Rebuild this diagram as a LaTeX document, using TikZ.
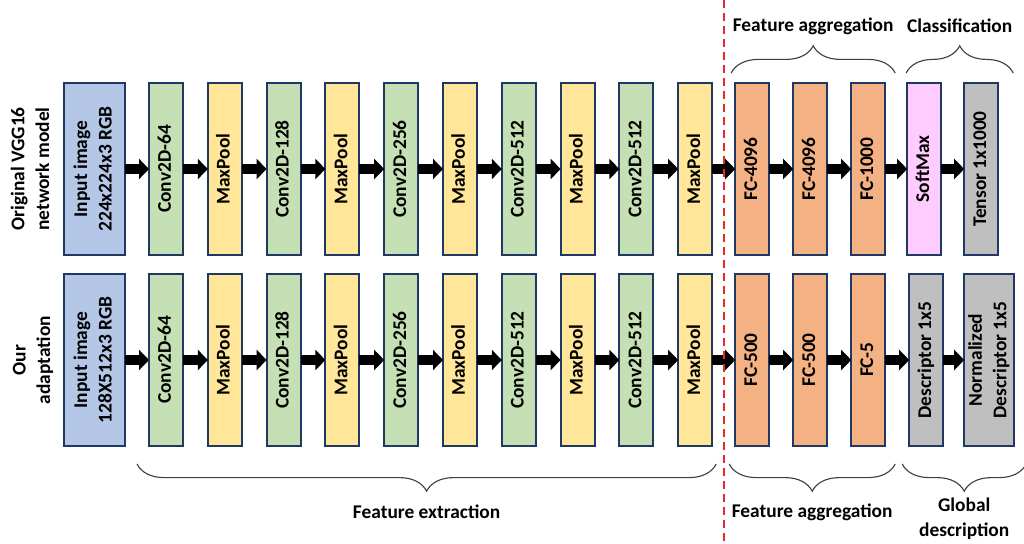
\documentclass[tikz,border=0pt]{standalone}
\usepackage{fontspec}
\setmainfont{Carlito}
\usepackage{tikz}
\usetikzlibrary{arrows.meta,positioning,calc,decorations.pathreplacing}
\usepackage{xcolor}

\definecolor{boxline}{HTML}{1F3864}
\definecolor{inblue}{HTML}{B4C7E7}
\definecolor{convgreen}{HTML}{C5E0B4}
\definecolor{poolyellow}{HTML}{FFE699}
\definecolor{fcorange}{HTML}{F4B183}
\definecolor{softpink}{HTML}{FFCCFF}
\definecolor{descgray}{HTML}{BFBFBF}
\definecolor{bracegray}{HTML}{404040}
\definecolor{cutred}{HTML}{E8262B}

\newcommand{\vtext}[1]{\rotatebox{90}{\begin{tabular}{@{}c@{}}#1\end{tabular}}}

\begin{document}
\begin{tikzpicture}[node distance=0.62cm, >=Latex, every node/.style={align=center,font=\fontsize{13.8}{17.5}\selectfont\bfseries}]
  \tikzset{
    blk/.style={draw=boxline,line width=1.3pt,minimum width=0.85cm,minimum height=4.3cm,inner sep=0pt,outer sep=0pt},
    inbox/.style={blk,fill=inblue,minimum width=1.525cm},
    convbox/.style={blk,fill=convgreen},
    poolbox/.style={blk,fill=poolyellow},
    fcbox/.style={blk,fill=fcorange},
    smbox/.style={blk,fill=softpink},
    outbox/.style={blk,fill=descgray},
    blockarrow/.style={line width=0.25cm,-{Triangle[length=0.25cm,width=0.5cm]}},
    brc/.style={decorate,decoration={brace,amplitude=0.68cm},draw=bracegray,line width=0.8pt},
  }
  \useasboundingbox (0,0) rectangle (25.6,-13.6);

  % row labels
  \node[rotate=90] (lbl1) at (0.75,-4.225) {Original VGG16\\network model};
  \node[rotate=90] (lbl2) at (0.825,-9.0) {Our\\adaptation};

  % original VGG16
  \node[inbox] (in1) at (2.3625,-4.225) {\vtext{Input image\\224x224x3 RGB}};
  \node[convbox,right=0.6cm of in1] (c11) {\vtext{Conv2D-64}};
  \node[poolbox,right=of c11] (p11) {\vtext{MaxPool}};
  \node[convbox,right=of p11] (c12) {\vtext{Conv2D-128}};
  \node[poolbox,right=of c12] (p12) {\vtext{MaxPool}};
  \node[convbox,right=of p12] (c13) {\vtext{Conv2D-256}};
  \node[poolbox,right=of c13] (p13) {\vtext{MaxPool}};
  \node[convbox,right=of p13] (c14) {\vtext{Conv2D-512}};
  \node[poolbox,right=of c14] (p14) {\vtext{MaxPool}};
  \node[convbox,right=of p14] (c15) {\vtext{Conv2D-512}};
  \node[poolbox,right=of c15] (p15) {\vtext{MaxPool}};
  \node[fcbox,right=0.575cm of p15] (fc11) {\vtext{FC-4096}};
  \node[fcbox,right=0.6cm of fc11] (fc12) {\vtext{FC-4096}};
  \node[fcbox,right=0.6cm of fc12] (fc13) {\vtext{FC-1000}};
  \node[smbox,right=0.55cm of fc13] (sm1) {\vtext{SoftMax}};
  \node[outbox,right=0.575cm of sm1] (out1) {\vtext{Tensor 1x1000}};

  % our adaptation
  \node[inbox,below=0.475cm of in1] (in2) {\vtext{Input image\\128X512x3 RGB}};
  \node[convbox,right=0.6cm of in2] (c21) {\vtext{Conv2D-64}};
  \node[poolbox,right=of c21] (p21) {\vtext{MaxPool}};
  \node[convbox,right=of p21] (c22) {\vtext{Conv2D-128}};
  \node[poolbox,right=of c22] (p22) {\vtext{MaxPool}};
  \node[convbox,right=of p22] (c23) {\vtext{Conv2D-256}};
  \node[poolbox,right=of c23] (p23) {\vtext{MaxPool}};
  \node[convbox,right=of p23] (c24) {\vtext{Conv2D-512}};
  \node[poolbox,right=of c24] (p24) {\vtext{MaxPool}};
  \node[convbox,right=of p24] (c25) {\vtext{Conv2D-512}};
  \node[poolbox,right=of c25] (p25) {\vtext{MaxPool}};
  \node[fcbox,right=0.575cm of p25] (fc21) {\vtext{FC-500}};
  \node[fcbox,right=0.6cm of fc21] (fc22) {\vtext{FC-500}};
  \node[fcbox,right=0.6cm of fc22] (fc23) {\vtext{FC-5}};
  \node[outbox,right=0.6cm of fc23] (desc) {\vtext{Descriptor 1x5}};
  \node[outbox,right=0.525cm of desc,minimum width=1.25cm] (ndesc) {\vtext{Normalized\\Descriptor 1x5}};

  \foreach \r in {1,2} {
    \foreach \a/\b in {in\r/c\r1,c\r1/p\r1,p\r1/c\r2,c\r2/p\r2,p\r2/c\r3,c\r3/p\r3,p\r3/c\r4,c\r4/p\r4,p\r4/c\r5,c\r5/p\r5,p\r5/fc\r1,fc\r1/fc\r2,fc\r2/fc\r3}
      \draw[blockarrow] (\a) -- (\b);
  }
  \draw[blockarrow] (fc13) -- (sm1); \draw[blockarrow] (sm1) -- (out1);
  \draw[blockarrow] (fc23) -- (desc); \draw[blockarrow] (desc) -- (ndesc);

  % divider
  \coordinate (cuttop) at (18.1,0);
  \coordinate (cutbot) at (18.1,-13.6);
  \draw[cutred,line width=0.05cm,dash pattern=on 0.2cm off 0.125cm] (cuttop) -- (cutbot);

  % braces
  \draw[brc] ($(fc11.north west)+(-0.1,0.25)$) -- node[midway,yshift=1.175cm] (agg1) {Feature aggregation} ($(fc13.north east)+(0.25,0.25)$);
  \draw[brc] ($(sm1.north west)+(-0.025,0.25)$) -- node[midway,yshift=1.175cm] (cls) {Classification} ($(out1.north east)+(0.375,0.25)$);
  \draw[brc,decoration={mirror}] ($(c21.south west)+(-0.3,-0.45)$) -- node[midway,yshift=-1.2cm] (fext) {Feature extraction} ($(p25.south east)+(0.1,-0.45)$);
  \draw[brc,decoration={mirror}] ($(fc21.south west)+(-0.15,-0.45)$) -- node[midway,yshift=-1.2cm] (agg2) {Feature aggregation} ($(fc23.south east)+(0.25,-0.45)$);
  \draw[brc,decoration={mirror}] ($(desc.south west)+(-0.175,-0.45)$) -- node[midway,yshift=-1.375cm] (gdesc) {Global\\description} ($(ndesc.south east)+(0.3,-0.45)$);
\end{tikzpicture}
\end{document}
